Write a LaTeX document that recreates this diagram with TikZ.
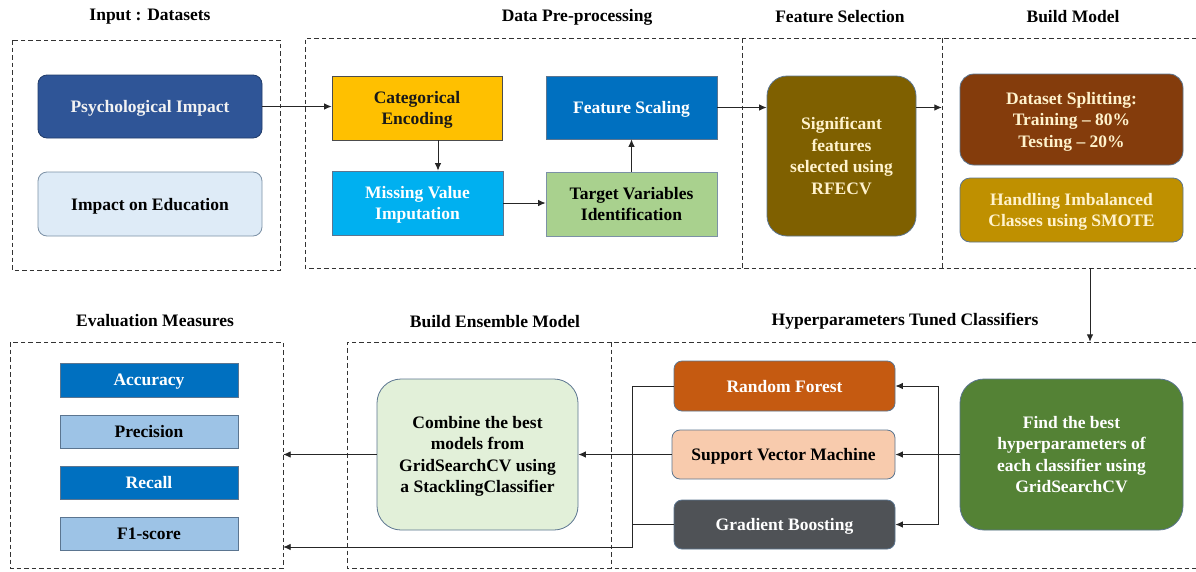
\documentclass[tikz,border=0pt]{standalone}
\usepackage{fontspec}
\setmainfont{Liberation Serif}
\usetikzlibrary{arrows.meta}

\definecolor{psyblue}{HTML}{2F5597}
\definecolor{edublue}{HTML}{DEEBF7}
\definecolor{catgold}{HTML}{FFC000}
\definecolor{misscyan}{HTML}{00B0F0}
\definecolor{scaleblue}{HTML}{0070C0}
\definecolor{targreen}{HTML}{A9D18E}
\definecolor{selolive}{HTML}{7F6000}
\definecolor{splitbrown}{HTML}{843C0C}
\definecolor{smotegold}{HTML}{BF9000}
\definecolor{cream}{HTML}{FFF2CC}
\definecolor{measlight}{HTML}{9DC3E6}
\definecolor{combgreen}{HTML}{E2F0D9}
\definecolor{rforange}{HTML}{C55A11}
\definecolor{svmpeach}{HTML}{F8CBAD}
\definecolor{gbgray}{HTML}{4F5256}
\definecolor{findgreen}{HTML}{548235}
\definecolor{edgeline}{HTML}{5B7590}

\tikzset{
  % place a node by its left/top/right/bottom edges
  spot/.style args={#1:#2:#3:#4}{
    at={({(#1+#3)/2},{(#2+#4)/2})},
    minimum width={(#3-#1)*1pt}, minimum height={(#4-#2)*1pt}},
  txt/.style={font=\bfseries\fontsize{17.5}{21.5}\selectfont},
  box/.style={txt, draw=edgeline, line width=0.8pt, align=center, inner sep=0pt,
    text depth=0pt},
  rbox/.style={box, rounded corners=#1},
  frame/.style={inner sep=0pt},
  dashline/.style={draw=black!80, line width=0.9pt, dash pattern=on 4.5pt off 3pt},
  heading/.style={txt, text=black},
  conn/.style={line width=0.9pt, draw=black!85},
  arr/.style={conn, -{Latex[length=7.5pt,width=6.5pt]}}
}

\begin{document}
\begin{tikzpicture}[x=1pt,y=-1pt]
\useasboundingbox[fill=white] (0,0) rectangle (1196,571);

% ---------- stage frames (anchors) ----------
\node[frame, spot=12:40:280:270] (fin) {};
\node[frame, spot=305:38:742:268] (fpre) {};
\node[frame, spot=742:38:942:268] (fsel) {};
\node[frame, spot=942:38:1196:268] (fbld) {};
\node[frame, spot=10:342:283:568] (feval) {};
\node[frame, spot=347:342:611:568] (fens) {};
\node[frame, spot=611:342:1196:568] (fhyp) {};

% ---------- dashed outlines of the stages ----------
\draw[dashline] (12,40) rectangle (280,270);
\draw[dashline] (1196,38) -- (305,38) -- (305,268) -- (1196,268);
\draw[dashline] (742,38) -- (742,268);
\draw[dashline] (942,38) -- (942,268);
\draw[dashline] (10,342) rectangle (283,568);
\draw[dashline] (1196,342) -- (347,342) -- (347,568) -- (1196,568);
\draw[dashline] (611,342) -- (611,568);

% ---------- headings ----------
\node[heading] (hin)  at (150,17)  {Input : Datasets};
\node[heading] (hpre) at (577,17)  {Data Pre-processing};
\node[heading] (hsel) at (840,17)  {Feature Selection};
\node[heading] (hbld) at (1073,17) {Build Model};
\node[heading] (hev)  at (155,321) {Evaluation Measures};
\node[heading] (hens) at (495,322) {Build Ensemble Model};
\node[heading] (hhyp) at (905,321) {Hyperparameters Tuned Classifiers};

% ---------- input datasets ----------
\node[rbox=9pt, fill=psyblue, draw=psyblue!70!black, text=white!95!black,
      spot=38:75:262:138] (psy) {Psychological Impact};
\node[rbox=9pt, fill=edublue, draw=edgeline!80, text=black,
      spot=38:172:262:236] (edu) {Impact on Education};

% ---------- pre-processing ----------
\node[box, fill=catgold, draw=black!70, text=black!90,
      spot=332:76:502:140] (cat) {Categorical\\Encoding};
\node[box, fill=misscyan, text=white,
      spot=332:171:503:235] (mis) {Missing Value\\Imputation};
\node[box, fill=scaleblue, text=white,
      spot=546:76:717:139] (fsc) {Feature Scaling};
\node[box, fill=targreen, draw=edgeline!80, text=black,
      spot=546:172:717:236] (tar) {Target Variables\\Identification};

% ---------- feature selection ----------
\node[rbox=20pt, fill=selolive, text=cream,
      spot=767:76:916:236] (sig) {Significant\\features\\selected using\\RFECV};

% ---------- build model ----------
\node[rbox=14pt, fill=splitbrown, text=cream,
      spot=960:74:1183:165] (spl) {Dataset Splitting:\\Training -- 80\%\\Testing -- 20\%};
\node[rbox=10pt, fill=smotegold, text=cream,
      spot=960:178:1183:242] (smo) {Handling Imbalanced\\Classes using SMOTE};

% ---------- evaluation measures ----------
\node[box, fill=scaleblue, text=white, spot=60:363:238:397] (acc) {Accuracy};
\node[box, fill=measlight, text=black, spot=60:415:238:448] (pre) {Precision};
\node[box, fill=scaleblue, text=white, spot=60:466:238:499] (rec) {Recall};
\node[box, fill=measlight, text=black, spot=60:517:238:550] (f1) {F1-score};

% ---------- ensemble ----------
\node[rbox=24pt, fill=combgreen, text=black,
      spot=377:379:578:530] (comb) {Combine the best\\models from\\GridSearchCV using\\a StacklingClassifier};

% ---------- tuned classifiers ----------
\node[rbox=8pt, fill=rforange, text=white, spot=674:361:895:411] (rf) {Random Forest};
\node[rbox=8pt, fill=svmpeach, text=black, spot=672:430:895:479] (svm) {Support Vector Machine};
\node[rbox=8pt, fill=gbgray, text=white, spot=674:500:895:549] (gb) {Gradient Boosting};
\node[rbox=24pt, fill=findgreen, text=white,
      spot=960:379:1183:530] (fnd) {Find the best\\hyperparameters of\\each classifier using\\GridSearchCV};

% ---------- connectors: top row ----------
\draw[arr] (psy.east) -- (psy.east -| cat.west);
\draw[arr] ([xshift=21pt]cat.south) -- ([xshift=21pt]cat.south |- mis.north);
\draw[arr] (mis.east) -- (mis.east -| tar.west);
\draw[arr] (tar.north) -- (fsc.south);
\draw[arr] (fsc.east) -- (fsc.east -| sig.west);
\draw[arr] (sig.east |- fsc.east) -- (fbld.west |- fsc.east);
\coordinate (drop) at (1090,268);
\draw[arr] (drop) -- (drop |- fhyp.north);

% ---------- connectors: bottom row ----------
\coordinate (rbus) at (938,386);
\coordinate (lbus) at (632,386);
\coordinate (lbot) at (632,547);
\draw[arr] (fnd.west) -- (fnd.west -| svm.east);
\draw[conn] (rbus |- rf.east) -- (rbus |- gb.east);
\draw[arr] (rbus |- rf.east) -- (rf.east);
\draw[arr] (rbus |- gb.east) -- (gb.east);
\draw[arr] (rf.west) -- (lbus |- rf.west) -- (lbot) -- (lbot -| feval.east);
\draw[conn] (gb.west) -- (lbus |- gb.west);
\draw[arr] (svm.west) -- (svm.west -| comb.east);
\draw[arr] (comb.west) -- (comb.west -| feval.east);
\end{tikzpicture}
\end{document}
